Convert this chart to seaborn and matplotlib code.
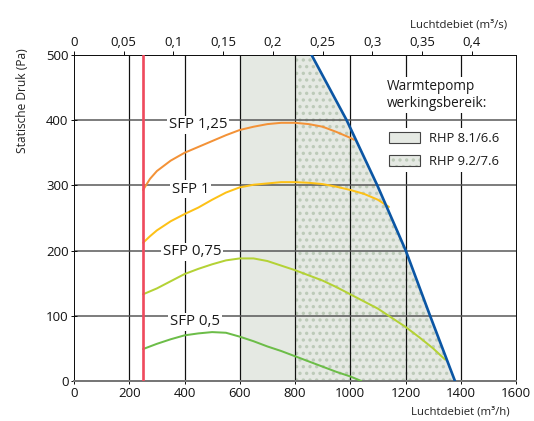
import matplotlib
matplotlib.use("Agg")
import matplotlib.pyplot as plt
import seaborn as sns
import pandas as pd
from matplotlib.patches import Patch

# ---------------- data ----------------
sfp125_x = [250, 275, 300, 350, 400, 450, 500, 550, 600, 650, 700, 750, 800, 850, 900, 950, 1000, 1014]
sfp125_y = [293, 310, 322, 338, 350, 359, 368, 377, 385, 390, 394, 396, 396, 394, 390, 382, 373, 370]

sfp1_x = [250, 275, 300, 350, 400, 450, 500, 550, 600, 650, 700, 750, 800, 850, 900, 950, 1000,
          1050, 1100, 1140]
sfp1_y = [212, 222, 231, 245, 256, 266, 278, 289, 297, 301, 303, 305, 305, 304, 302, 298, 293,
          287, 278, 267]

sfp075_x = [250, 300, 350, 400, 450, 500, 550, 600, 650, 700, 750, 800, 850, 900, 950, 1000,
            1050, 1100, 1150, 1200, 1250, 1300, 1343]
sfp075_y = [133, 142, 153, 164, 172, 179, 185, 188, 188, 184, 177, 170, 162, 154, 144, 133,
            122, 111, 97, 83, 67, 50, 33]

sfp05_x = [250, 300, 350, 400, 450, 500, 550, 600, 650, 700, 750, 800, 850, 900, 950, 1000, 1040]
sfp05_y = [49, 57, 64, 70, 73, 75, 74, 68, 61, 53, 46, 38, 30, 22, 14, 7, 0]

max_x = [860, 987, 1098, 1201, 1289, 1379]
max_y = [500, 400, 300, 200, 100, 0]

min_flow = 250
rhp1_range = (600, 800)
rhp2_start = 800

curve_names = ["SFP 1,25", "SFP 1", "SFP 0,75", "SFP 0,5"]
label_pos_x = [449, 422, 428, 438]
label_pos_y = [393, 294, 198, 91]

x_ticks = [0, 200, 400, 600, 800, 1000, 1200, 1400, 1600]
y_ticks = [0, 100, 200, 300, 400, 500]
top_ticks = [0, 0.05, 0.1, 0.15, 0.2, 0.25, 0.3, 0.35, 0.4]
top_labels = ["0", "0,05", "0,1", "0,15", "0,2", "0,25", "0,3", "0,35", "0,4"]
legend_labels = ["RHP 8.1/6.6", "RHP 9.2/7.6"]

# ---------------- styling ----------------
colors = {"SFP 1,25": "#f39237", "SFP 1": "#fdc117", "SFP 0,75": "#b4d235", "SFP 0,5": "#6cbd48"}
red = "#ef4a5d"
blue = "#0b56a4"
fill = "#e5e9e3"
dots = "#bccab8"

sns.set_style("ticks")
plt.rcParams["font.family"] = ["Open Sans", "DejaVu Sans"]
plt.rcParams["patch.force_edgecolor"] = False
plt.rcParams["hatch.color"] = dots
plt.rcParams["hatch.linewidth"] = 1.8

DPI = 80
fig = plt.figure(figsize=(534 / DPI, 421 / DPI), dpi=DPI)
ax = fig.add_axes([74 / 534, 1 - 381 / 421, 442 / 534, 326 / 421])

# shaded working ranges
ax.axvspan(*rhp1_range, facecolor=fill, linewidth=0, zorder=1)
ax.fill_betweenx(max_y, rhp2_start, max_x, facecolor=fill, hatch="..", linewidth=0, zorder=1)

# curves
frames = []
for name, xs, ys in zip(curve_names, [sfp125_x, sfp1_x, sfp075_x, sfp05_x],
                        [sfp125_y, sfp1_y, sfp075_y, sfp05_y]):
    frames.append(pd.DataFrame({"flow": xs, "pressure": ys, "curve": name}))
df = pd.concat(frames, ignore_index=True)
sns.lineplot(data=df, x="flow", y="pressure", hue="curve", palette=colors, sort=False,
             estimator=None, legend=False, linewidth=1.8, ax=ax, zorder=4)

sns.lineplot(x=max_x, y=max_y, sort=False, estimator=None, color=blue, linewidth=2.4, ax=ax, zorder=4.5)
ax.axvline(min_flow, color=red, linewidth=2.4, zorder=4.5)

# curve labels
for name, lx, ly in zip(curve_names, label_pos_x, label_pos_y):
    ax.text(lx, ly, name, ha="center", va="center", fontsize=13.5, color="#1a1a1a", zorder=3,
            bbox=dict(facecolor="white", edgecolor="none", pad=1.5))

# axes
ax.set_xlim(0, 1600)
ax.set_ylim(0, 500)
ax.set_xticks(x_ticks)
ax.set_yticks(y_ticks)
ax.xaxis.grid(True, color="#111111", linewidth=1.1)
ax.yaxis.grid(True, color="#555555", linewidth=1.35)
ax.set_axisbelow("line")
for gl, t in zip(ax.yaxis.get_gridlines(), y_ticks):
    if t in (0, 500):
        gl.set_visible(False)
for gl, t in zip(ax.xaxis.get_gridlines(), x_ticks):
    if t in (0, 1600):
        gl.set_visible(False)

for s in ["left", "top", "right"]:
    ax.spines[s].set_visible(True)
    ax.spines[s].set_color("#111111")
    ax.spines[s].set_linewidth(0.9)
ax.spines["bottom"].set_color("#777777")
ax.spines["bottom"].set_linewidth(1.8)

ax.tick_params(axis="y", direction="inout", length=6, width=0.9, pad=2, labelsize=11.8,
               colors="#111111")
ax.tick_params(axis="x", direction="inout", length=5, width=0.9, pad=3, labelsize=11.8,
               colors="#111111")

ax.set_ylabel("Statische Druk (Pa)", fontsize=10.8, color="#222222")
ax.yaxis.set_label_coords(-0.101, 0.859)
ax.set_xlabel("Luchtdebiet (m³/h)", fontsize=10.2, color="#222222", loc="right")
ax.xaxis.set_label_coords(0.986, -0.077)

secax = ax.secondary_xaxis("top", functions=(lambda v: v / 3600, lambda v: v * 3600))
secax.set_xticks(top_ticks)
secax.set_xticklabels(top_labels)
secax.tick_params(direction="out", length=3.5, width=0.9, pad=2, labelsize=11.8, colors="#111111")
secax.spines["top"].set_color("#111111")
secax.spines["top"].set_linewidth(0.9)
secax.set_xlabel("Luchtdebiet (m³/s)", fontsize=10.2, color="#222222", loc="right")
secax.xaxis.set_label_coords(0.98, 1.083, transform=ax.transAxes)

# legend
ax.text(0.708, 0.925, "Warmtepomp\nwerkingsbereik:", transform=ax.transAxes, ha="left", va="top",
        fontsize=12.3, color="#1a1a1a", linespacing=1.1, zorder=5,
        bbox=dict(facecolor="white", edgecolor="none", pad=2))
h1 = Patch(facecolor=fill, edgecolor="#444444", linewidth=1)
h2a = Patch(facecolor=fill, hatch="..", linewidth=0)
h2b = Patch(facecolor="none", edgecolor="#444444", linewidth=1)
leg = ax.legend([h1, (h2a, h2b)], legend_labels, loc="upper left", bbox_to_anchor=(0.703, 0.775),
                frameon=True, facecolor="white", edgecolor="none", framealpha=1, fancybox=False,
                fontsize=11.7, handlelength=2.4, handleheight=0.95, handletextpad=0.7,
                borderpad=0.3, borderaxespad=0, labelspacing=0.75)
leg.set_zorder(5)
for t in leg.get_texts():
    t.set_color("#1a1a1a")

fig.savefig("out.png", dpi=DPI)
